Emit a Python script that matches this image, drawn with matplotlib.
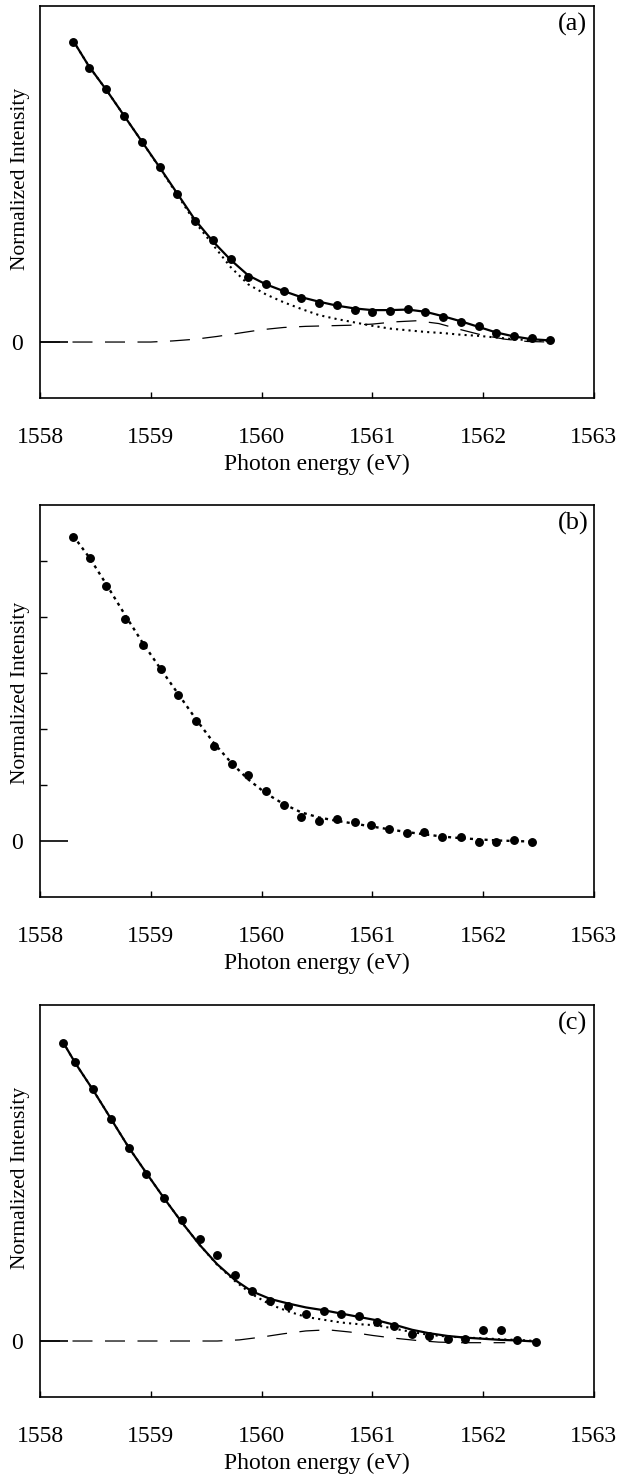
import numpy as np
import matplotlib
matplotlib.use("Agg")
import matplotlib.pyplot as plt

plt.rcParams['font.family'] = ['Liberation Serif', 'DejaVu Serif']

# ---- panel (a) ----
xa = [1558.30, 1558.44, 1558.60, 1558.76, 1558.92, 1559.08, 1559.24, 1559.40,
      1559.56, 1559.72, 1559.88, 1560.04, 1560.20, 1560.36, 1560.52, 1560.68,
      1560.84, 1561.00, 1561.16, 1561.32, 1561.48, 1561.64, 1561.80, 1561.96,
      1562.12, 1562.28, 1562.44, 1562.60]
ya_data = [5.36, 4.90, 4.51, 4.04, 3.57, 3.13, 2.65, 2.16,
           1.82, 1.49, 1.16, 1.03, 0.92, 0.78, 0.70, 0.66,
           0.57, 0.53, 0.56, 0.59, 0.53, 0.45, 0.36, 0.29,
           0.16, 0.10, 0.07, 0.04]
ya_fit = [5.38, 4.93, 4.50, 4.04, 3.58, 3.12, 2.65, 2.18,
          1.80, 1.47, 1.19, 1.03, 0.91, 0.80, 0.72, 0.65,
          0.60, 0.57, 0.57, 0.58, 0.54, 0.46, 0.37, 0.27,
          0.17, 0.10, 0.05, 0.03]
ya_bg = [5.38, 4.93, 4.50, 4.04, 3.58, 3.11, 2.63, 2.14,
         1.74, 1.34, 1.03, 0.85, 0.71, 0.59, 0.48, 0.41,
         0.35, 0.29, 0.24, 0.21, 0.18, 0.16, 0.13, 0.11,
         0.08, 0.05, 0.03, 0.02]
xa_peak = [1558.0, 1558.5, 1559.0, 1559.2, 1559.4, 1559.6, 1559.8, 1560.0, 1560.2,
           1560.4, 1560.6, 1560.8, 1561.0, 1561.2, 1561.4, 1561.6, 1561.8, 1562.0,
           1562.2, 1562.4, 1562.6]
ya_peak = [0.0, 0.0, 0.0, 0.02, 0.05, 0.10, 0.16, 0.22, 0.26,
           0.28, 0.29, 0.30, 0.32, 0.36, 0.38, 0.33, 0.22, 0.12,
           0.05, 0.01, 0.0]

# ---- panel (b) ----
xb = [1558.30, 1558.45, 1558.60, 1558.77, 1558.93, 1559.09, 1559.25, 1559.41,
      1559.57, 1559.73, 1559.88, 1560.04, 1560.20, 1560.36, 1560.52, 1560.68,
      1560.84, 1560.99, 1561.15, 1561.31, 1561.47, 1561.63, 1561.80, 1561.96,
      1562.12, 1562.28, 1562.44]
yb_data = [5.43, 5.06, 4.56, 3.97, 3.50, 3.08, 2.61, 2.14,
           1.69, 1.37, 1.17, 0.90, 0.65, 0.43, 0.36, 0.40,
           0.34, 0.28, 0.22, 0.15, 0.16, 0.07, 0.07, -0.01,
           -0.01, 0.01, -0.01]
yb_fit = [5.45, 5.05, 4.58, 4.03, 3.53, 3.07, 2.62, 2.17,
          1.75, 1.39, 1.10, 0.85, 0.66, 0.51, 0.42, 0.36,
          0.31, 0.26, 0.21, 0.16, 0.12, 0.08, 0.05, 0.03,
          0.01, 0.0, -0.01]

# ---- panel (c) ----
xc = [1558.21, 1558.32, 1558.48, 1558.64, 1558.80, 1558.96, 1559.12, 1559.28,
      1559.44, 1559.60, 1559.76, 1559.91, 1560.08, 1560.24, 1560.40, 1560.56,
      1560.72, 1560.88, 1561.04, 1561.20, 1561.36, 1561.51, 1561.68, 1561.84,
      1562.00, 1562.16, 1562.31, 1562.48]
yc_data = [5.33, 4.98, 4.50, 3.97, 3.44, 2.99, 2.55, 2.17,
           1.82, 1.53, 1.17, 0.90, 0.71, 0.63, 0.48, 0.53,
           0.49, 0.45, 0.34, 0.26, 0.12, 0.09, 0.04, 0.04,
           0.20, 0.20, 0.02, -0.02]
yc_fit = [5.33, 4.96, 4.48, 3.97, 3.46, 3.00, 2.55, 2.12,
          1.72, 1.37, 1.09, 0.89, 0.75, 0.67, 0.60, 0.55,
          0.49, 0.43, 0.37, 0.29, 0.20, 0.14, 0.09, 0.06,
          0.04, 0.02, 0.01, -0.01]
yc_bg = [5.33, 4.96, 4.48, 3.97, 3.46, 3.00, 2.55, 2.12,
         1.72, 1.36, 1.07, 0.84, 0.65, 0.53, 0.43, 0.38,
         0.33, 0.30, 0.28, 0.22, 0.16, 0.11, 0.08, 0.06,
         0.05, 0.03, 0.02, 0.0]
xc_peak = [1558.0, 1559.0, 1559.6, 1559.8, 1560.0, 1560.2, 1560.4, 1560.6, 1560.8,
           1561.0, 1561.2, 1561.4, 1561.6, 1561.8, 1562.0, 1562.2]
yc_peak = [0.0, 0.0, 0.0, 0.02, 0.07, 0.13, 0.18, 0.20, 0.16,
           0.10, 0.05, 0.01, -0.02, -0.03, -0.03, -0.03]

panel_labels = ['(a)', '(b)', '(c)']
x_ticks = [1558, 1559, 1560, 1561, 1562, 1563]

fig = plt.figure(figsize=(6.23, 14.78), dpi=100)
bottoms = [0.7307, 0.3931, 0.0548]
axes = [fig.add_axes([0.0642, b, 0.889, 0.2652]) for b in bottoms]

dash_style = (0, (16, 10))
dot_style = (0, (1, 2.0))
mark_size = 5.4

ax = axes[0]
ax.plot(xa_peak, ya_peak, color='black', lw=0.9, linestyle=dash_style, zorder=2)
ax.plot(xa, ya_bg, color='black', lw=1.5, linestyle=dot_style, zorder=2)
ax.plot(xa, ya_fit, color='black', lw=1.6, zorder=3)
ax.plot(xa, ya_data, 'o', color='black', ms=mark_size, zorder=4)

ax = axes[1]
ax.plot(xb, yb_fit, color='black', lw=1.7, linestyle=(0, (1.3, 1.8)), zorder=2)
ax.plot(xb, yb_data, 'o', color='black', ms=mark_size, zorder=4)
ax.set_yticks([1, 2, 3, 4, 5], minor=True)
ax.tick_params(axis='y', which='minor', direction='in', length=5, width=1.0)

ax = axes[2]
ax.plot(xc_peak, yc_peak, color='black', lw=0.9, linestyle=dash_style, zorder=2)
ax.plot(xc, yc_bg, color='black', lw=1.5, linestyle=dot_style, zorder=2)
ax.plot(xc, yc_fit, color='black', lw=1.6, zorder=3)
ax.plot(xc, yc_data, 'o', color='black', ms=mark_size, zorder=4)

label_y = [0.56, 0.52, 0.56]
for i, ax in enumerate(axes):
    ax.set_xlim(1558, 1563)
    ax.set_ylim(-1, 6)
    ax.set_xticks(x_ticks)
    ax.set_yticks([0])
    ax.set_yticklabels(['0'])
    ax.tick_params(axis='x', direction='in', length=4, width=1.0, labelsize=17, pad=21)
    ax.tick_params(axis='y', which='major', direction='in', length=20, width=1.2,
                   labelsize=17, pad=12)
    for s in ax.spines.values():
        s.set_linewidth(1.2)
    ax.set_xlabel('Photon energy (eV)', fontsize=17, labelpad=4)
    ax.set_ylabel('Normalized Intensity', fontsize=15.5)
    ax.yaxis.set_label_coords(-0.018, label_y[i])
    ax.text(0.962, 0.952, panel_labels[i], transform=ax.transAxes,
            fontsize=19, ha='center', va='center')

fig.savefig('out.png', dpi=100)
